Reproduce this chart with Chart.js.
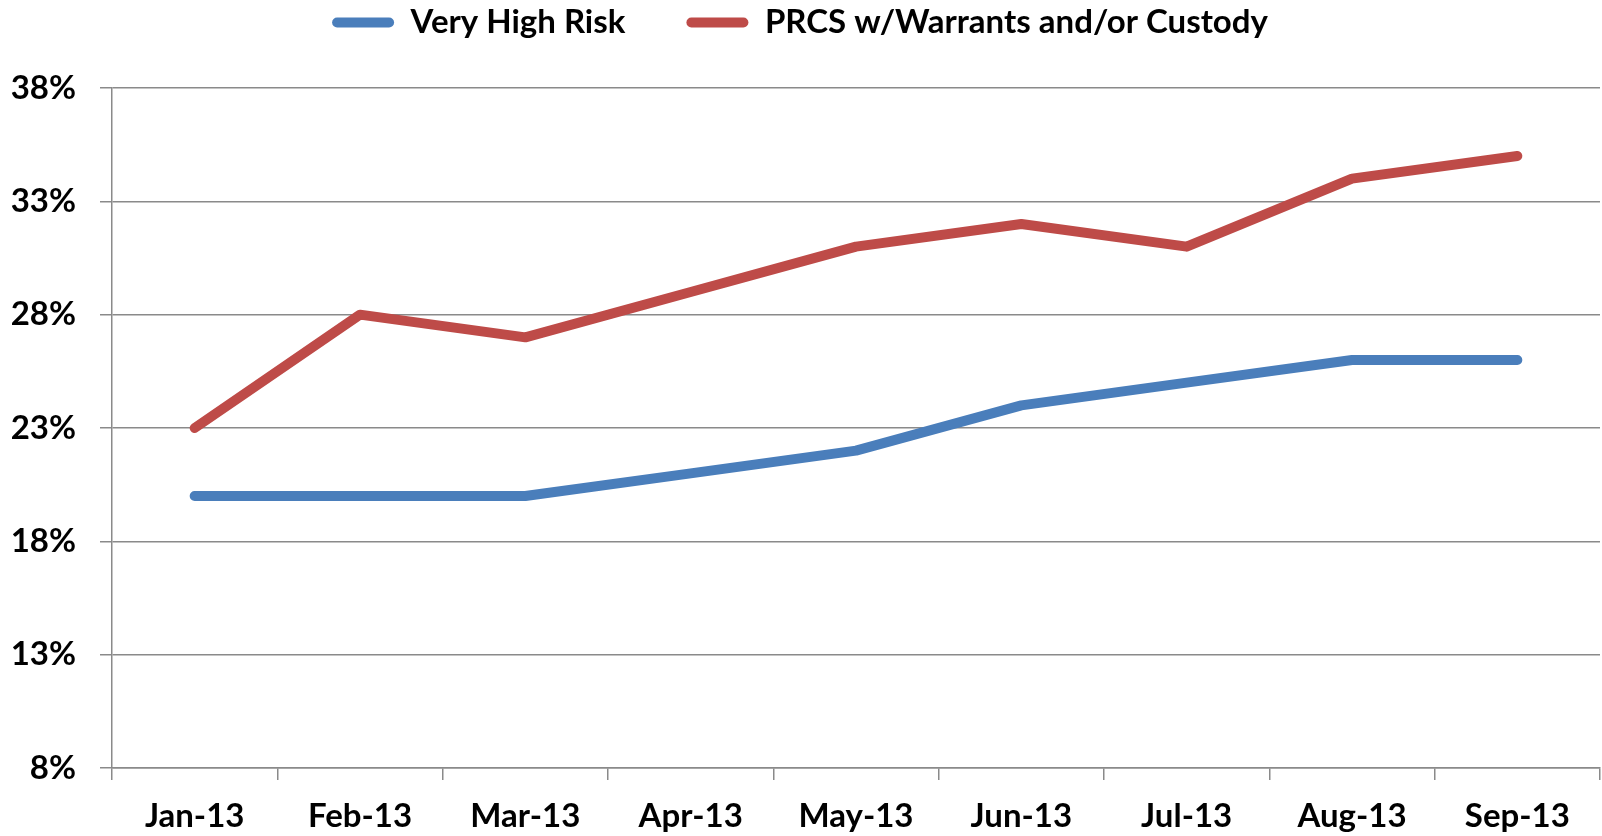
<!DOCTYPE html>
<html>
<head>
<meta charset="utf-8">
<script src="https://cdn.jsdelivr.net/npm/chart.js@4/dist/chart.umd.min.js"></script>
<style>
  html, body { margin: 0; padding: 0; background: #fff; }
  #wrap { width: 1602px; height: 836px; }
</style>
</head>
<body>
<div id="wrap"><canvas id="c" width="1602" height="836"></canvas></div>
<script>
const months = ['Jan-13', 'Feb-13', 'Mar-13', 'Apr-13', 'May-13', 'Jun-13', 'Jul-13', 'Aug-13', 'Sep-13'];
const veryHighRisk = [20, 20, 20, 21, 22, 24, 25, 26, 26];
const prcsWarrants = [23, 28, 27, 29, 31, 32, 31, 34, 35];
const seriesNames = ['Very High Risk', 'PRCS w/Warrants and/or Custody'];

const BLUE = '#4A7EBB';
const RED = '#BE4B48';
const GRID = '#8a8a8a';
const font = { family: "Lato, 'Open Sans', sans-serif", size: 33, weight: 'bold' };

// legend sits high, chart area should start at y=88
const LEGEND_TOP = -55;
const PLOT_TOP = 88;

const lineStyle = color => ({
  borderColor: color,
  backgroundColor: color,
  borderWidth: 10,
  borderCapStyle: 'round',
  borderJoinStyle: 'round',
  pointRadius: 0,
  pointHoverRadius: 0,
  tension: 0,
  fill: false
});

// stretch the legend box so the plot starts where the reference does
const legendHeight = {
  id: 'legendHeight',
  beforeLayout(chart) {
    const lg = chart.legend;
    if (!lg || lg._patched) return;
    const fit = lg.fit;
    lg.fit = function () {
      fit.call(this);
      this.height = PLOT_TOP - LEGEND_TOP;
    };
    lg._patched = true;
  }
};

new Chart(document.getElementById('c'), {
  type: 'line',
  data: {
    labels: months,
    datasets: [
      { label: seriesNames[0], data: veryHighRisk, ...lineStyle(BLUE) },
      { label: seriesNames[1], data: prcsWarrants, ...lineStyle(RED) }
    ]
  },
  plugins: [legendHeight],
  options: {
    responsive: false,
    animation: false,
    layout: { padding: { top: LEGEND_TOP, right: 2, left: 0, bottom: 0 } },
    plugins: {
      tooltip: { enabled: false },
      legend: {
        position: 'top',
        labels: {
          color: '#000',
          font,
          boxWidth: 62,
          boxHeight: 10,
          padding: 61,
          useBorderRadius: true,
          borderRadius: 5,
          generateLabels: chart => Chart.defaults.plugins.legend.labels.generateLabels(chart)
            .map(l => ({ ...l, lineWidth: 0, fillStyle: l.strokeStyle }))
        }
      }
    },
    scales: {
      x: {
        offset: true,
        grid: { display: true, drawOnChartArea: false, offset: true, tickLength: 12, color: GRID, lineWidth: 1.5 },
        border: { color: GRID, width: 1.5 },
        ticks: { color: '#000', font, padding: 17, maxRotation: 0, autoSkip: false },
        afterFit: s => { s.height = 68; }
      },
      y: {
        min: 8,
        max: 38,
        grid: { color: GRID, lineWidth: 1.5, tickLength: 12 },
        border: { color: GRID, width: 1.5 },
        ticks: { stepSize: 5, color: '#000', font, padding: 24, callback: v => v + '%' },
        afterFit: s => { s.width = 112; }
      }
    }
  }
});
</script>
</body>
</html>
